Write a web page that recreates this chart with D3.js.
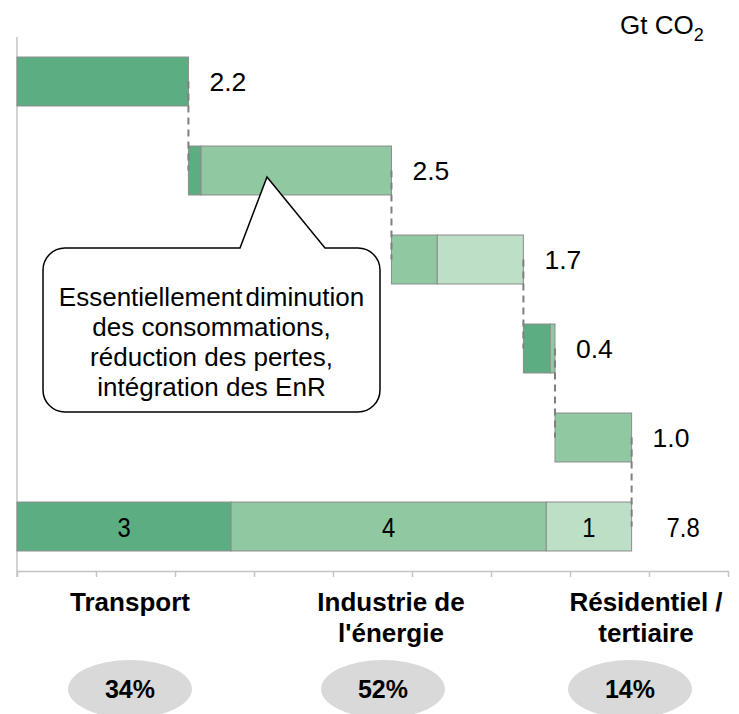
<!DOCTYPE html>
<html>
<head>
<meta charset="utf-8">
<script src="https://cdn.jsdelivr.net/npm/d3@7"></script>
<style>
  body { margin: 0; background: #fff; }
  text { font-family: "Liberation Sans", Arial, sans-serif; fill: #000; }
</style>
</head>
<body>
<svg width="739" height="714"></svg>
<script>
// waterfall steps (Gt CO2), split by sector colour
var stepLabels = ["2.2", "2.5", "1.7", "0.4", "1.0"];
var stepDark  = [2.17, 0.16, 0,    0.34, 0];
var stepMid   = [0,    2.41, 0.58, 0.06, 0.97];
var stepLight = [0,    0,    1.09, 0,    0];

// total bar
var totalParts = [2.71, 3.99, 1.08];
var totalPartLabels = ["3", "4", "1"];
var totalLabel = "7.8";

var categories = [["Transport"], ["Industrie de", "l'énergie"], ["Résidentiel /", "tertiaire"]];
var shares = ["34%", "52%", "14%"];
var xTickValues = [0, 1, 2, 3, 4, 5, 6, 7, 8, 9];
var calloutLines = ["Essentiellement diminution", "des consommations,", "réduction des pertes,", "intégration des EnR"];
var unitLabel = "Gt CO";

var colors = ["#5cad81", "#8fc8a1", "#bddfc5"];

var svg = d3.select("svg");

var x = d3.scaleLinear()
    .domain([0, 9])
    .range([17, 728]);

var rows = d3.range(stepLabels.length + 1);
var y = d3.scaleBand()
    .domain(rows)
    .range([37, 571])
    .paddingInner(0.45)
    .paddingOuter(0.225);

// build segments for each step row
var segs = [];
var ends = [];
var run = 0;
stepLabels.forEach(function(lab, i) {
    [stepDark[i], stepMid[i], stepLight[i]].forEach(function(v, k) {
        if (v > 0) {
            segs.push({row: i, x0: run, x1: run + v, c: colors[k]});
            run += v;
        }
    });
    ends.push(run);
});
var t = 0;
totalParts.forEach(function(v, k) {
    segs.push({row: rows.length - 1, x0: t, x1: t + v, c: colors[k], label: totalPartLabels[k]});
    t += v;
});
ends.push(t);

// axes
var xAxis = d3.axisBottom(x)
    .tickValues(xTickValues)
    .tickSize(6)
    .tickSizeOuter(0)
    .tickFormat("");
var gx = svg.append("g")
    .attr("transform", "translate(0,571)")
    .call(xAxis);
gx.select(".domain").attr("stroke", "#c4c4c4").attr("stroke-width", 1.5);
gx.selectAll(".tick line").attr("stroke", "#c4c4c4").attr("stroke-width", 1.5);

svg.append("line")
    .attr("x1", x(0)).attr("x2", x(0))
    .attr("y1", 37).attr("y2", 577)
    .attr("stroke", "#c4c4c4")
    .attr("stroke-width", 1.5);

// bars
svg.selectAll("rect.seg")
    .data(segs)
    .enter().append("rect")
    .attr("class", "seg")
    .attr("x", function(d) { return x(d.x0); })
    .attr("y", function(d) { return y(d.row); })
    .attr("width", function(d) { return x(d.x1) - x(d.x0); })
    .attr("height", y.bandwidth())
    .attr("fill", function(d) { return d.c; })
    .attr("stroke", "#8c8c8c")
    .attr("stroke-width", 1);

// dashed connectors
svg.selectAll("line.conn")
    .data(ends.slice(0, ends.length - 1))
    .enter().append("line")
    .attr("class", "conn")
    .attr("x1", function(d) { return x(d); })
    .attr("x2", function(d) { return x(d); })
    .attr("y1", function(d, i) { return y(i) + y.bandwidth() / 2; })
    .attr("y2", function(d, i) { return y(i + 1) + y.bandwidth() / 2; })
    .attr("stroke", "#7f7f7f")
    .attr("stroke-width", 2)
    .attr("stroke-dasharray", "7,5");

// value labels (total row uses a condensed look)
var last = stepLabels.length;
svg.selectAll("text.val")
    .data(stepLabels.concat([totalLabel]))
    .enter().append("text")
    .attr("class", "val")
    .attr("transform", function(d, i) {
        var tx = x(ends[i]) + (i === last ? 35 : 21);
        var ty = y(i) + y.bandwidth() / 2;
        return "translate(" + tx + "," + ty + ")" + (i === last ? " scale(0.85,1)" : "");
    })
    .attr("dy", "0.36em")
    .style("font-size", function(d, i) { return i === last ? "28px" : "26.5px"; })
    .text(function(d) { return d; });

// labels inside total bar
svg.selectAll("text.inner")
    .data(segs.filter(function(d) { return d.label; }))
    .enter().append("text")
    .attr("class", "inner")
    .attr("transform", function(d) {
        return "translate(" + (x(d.x0) + x(d.x1)) / 2 + "," + (y(d.row) + y.bandwidth() / 2) + ") scale(0.85,1)";
    })
    .attr("dy", "0.36em")
    .attr("text-anchor", "middle")
    .style("font-size", "28px")
    .text(function(d) { return d.label; });

// unit
var unit = svg.append("text")
    .attr("x", 620)
    .attr("y", 34)
    .style("font-size", "26px")
    .text(unitLabel);
unit.append("tspan")
    .attr("dy", 7)
    .style("font-size", "18px")
    .text("2");

// callout
var cl = 43, cr = 380, ct = 248, cb = 412, rad = 22;
var p = d3.path();
p.moveTo(cl + rad, ct);
p.lineTo(240, ct);
p.lineTo(267, 177);
p.lineTo(325, ct);
p.lineTo(cr - rad, ct);
p.arcTo(cr, ct, cr, ct + rad, rad);
p.lineTo(cr, cb - rad);
p.arcTo(cr, cb, cr - rad, cb, rad);
p.lineTo(cl + rad, cb);
p.arcTo(cl, cb, cl, cb - rad, rad);
p.lineTo(cl, ct + rad);
p.arcTo(cl, ct, cl + rad, ct, rad);
p.closePath();
svg.append("path")
    .attr("d", p.toString())
    .attr("fill", "#fff")
    .attr("stroke", "#000")
    .attr("stroke-width", 1.5);

svg.selectAll("text.call")
    .data(calloutLines)
    .enter().append("text")
    .attr("class", "call")
    .attr("x", (cl + cr) / 2)
    .attr("y", function(d, i) { return 306 + i * 30; })
    .attr("text-anchor", "middle")
    .style("font-size", "26px")
    .style("word-spacing", function(d, i) { return i === 0 ? "-4px" : null; })
    .text(function(d) { return d; });

// category labels and shares
var catX = [130, 391, 646];
var shareX = [130, 383, 630];

categories.forEach(function(lines, i) {
    svg.append("text")
        .attr("x", catX[i])
        .attr("y", 611)
        .attr("text-anchor", "middle")
        .style("font-size", "26px")
        .style("font-weight", "bold")
        .selectAll("tspan")
        .data(lines)
        .enter().append("tspan")
        .attr("x", catX[i])
        .attr("dy", function(d, k) { return k === 0 ? 0 : 31; })
        .text(function(d) { return d; });
});

svg.selectAll("ellipse.share")
    .data(shares)
    .enter().append("ellipse")
    .attr("class", "share")
    .attr("cx", function(d, i) { return shareX[i]; })
    .attr("cy", 689)
    .attr("rx", 62)
    .attr("ry", 29)
    .attr("fill", "#d9d9d9");

svg.selectAll("text.share")
    .data(shares)
    .enter().append("text")
    .attr("class", "share")
    .attr("x", function(d, i) { return shareX[i]; })
    .attr("y", 689)
    .attr("dy", "0.36em")
    .attr("text-anchor", "middle")
    .style("font-size", "25px")
    .style("font-weight", "bold")
    .text(function(d) { return d; });
</script>
</body>
</html>
